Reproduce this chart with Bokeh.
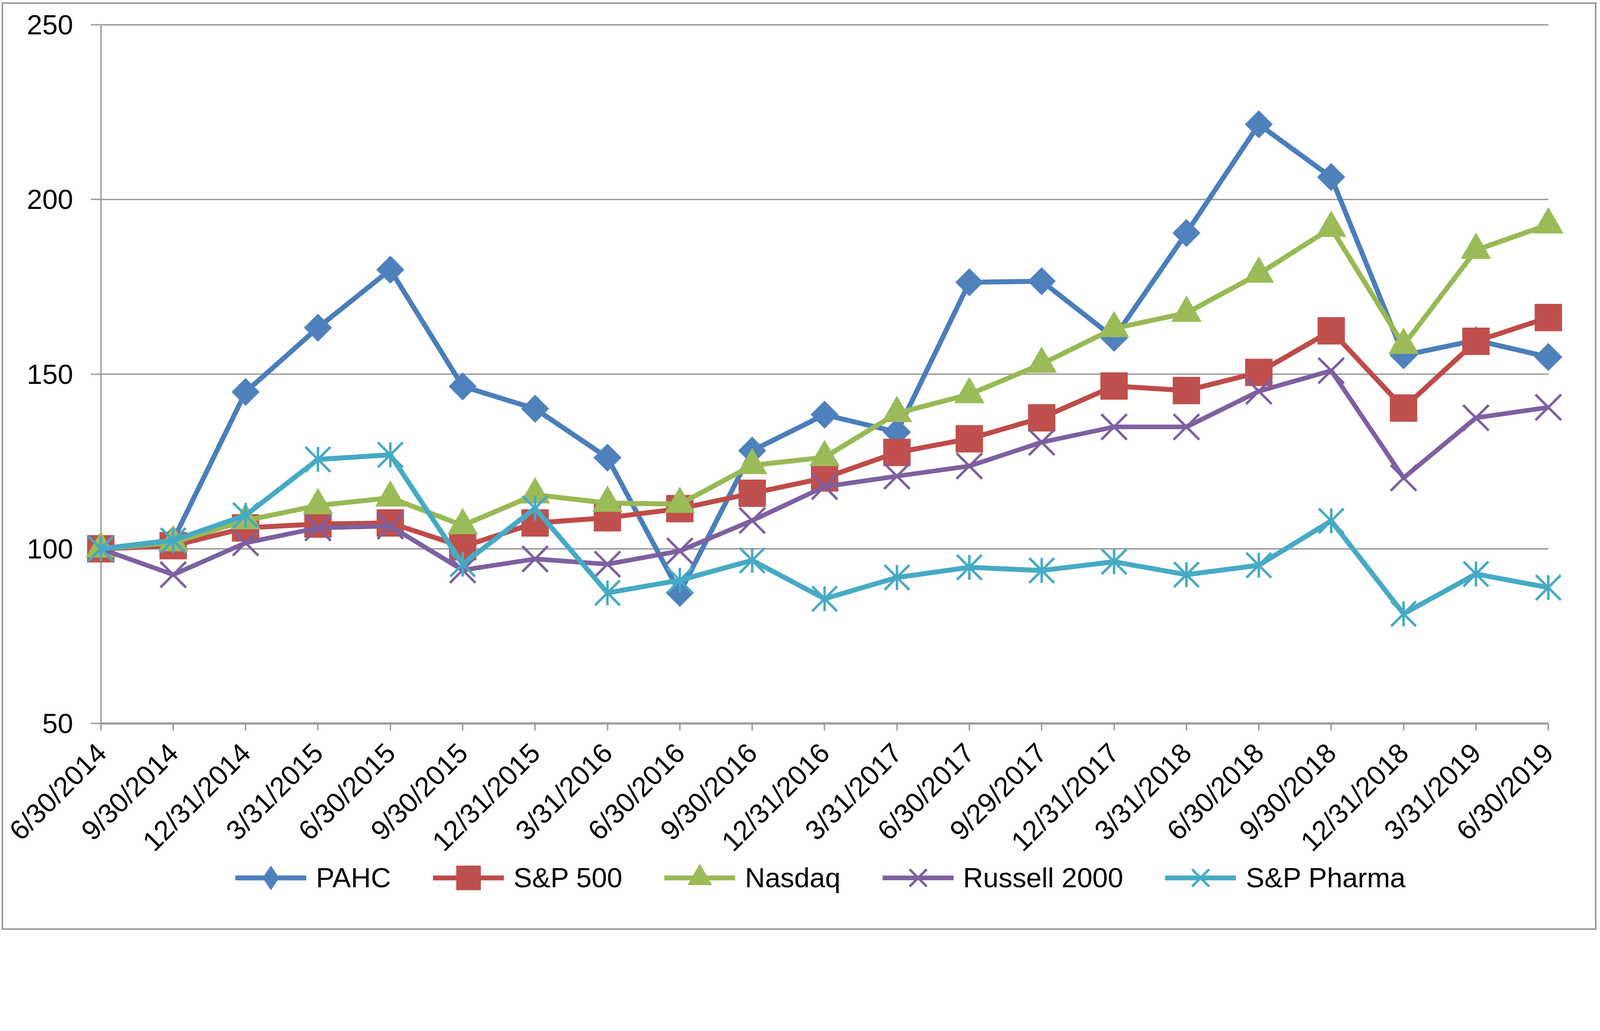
import math
from bokeh.plotting import figure
from bokeh.models import Range1d, FixedTicker, Legend, LegendItem, ColumnDataSource
from bokeh.embed import file_html
from bokeh.resources import INLINE

dates = ["6/30/2014", "9/30/2014", "12/31/2014", "3/31/2015", "6/30/2015", "9/30/2015",
         "12/31/2015", "3/31/2016", "6/30/2016", "9/30/2016", "12/31/2016", "3/31/2017",
         "6/30/2017", "9/29/2017", "12/31/2017", "3/31/2018", "6/30/2018", "9/30/2018",
         "12/31/2018", "3/31/2019", "6/30/2019"]

pahc = [100, 102.5, 144.9, 163.3, 179.9, 146.5, 140.1, 126.1, 87.4, 128.1, 138.4, 133.4,
        176.3, 176.6, 160.4, 190.4, 221.5, 206.4, 155.4, 159.7, 154.9]
sp500 = [100, 100.9, 106.0, 107.1, 107.4, 100.6, 107.4, 108.9, 111.5, 115.9, 120.3, 127.6,
         131.5, 137.5, 146.6, 145.3, 150.5, 162.4, 140.3, 159.4, 166.2]
nasdaq = [100, 101.8, 108.1, 112.4, 114.6, 106.7, 115.5, 113.1, 112.8, 123.9, 126.2, 138.8,
          144.2, 152.9, 163.1, 167.5, 178.7, 191.8, 158.3, 185.5, 192.8]
russell = [100, 92.6, 101.7, 106.0, 106.5, 93.9, 97.1, 95.6, 99.4, 108.1, 117.8, 120.8,
           123.7, 130.5, 134.9, 134.9, 145.1, 151.0, 120.3, 137.5, 140.5]
pharma = [100, 102.4, 109.6, 125.6, 126.9, 95.6, 111.6, 87.4, 91.0, 96.7, 85.7, 91.8,
          94.7, 93.8, 96.3, 92.6, 95.3, 108.0, 81.4, 92.8, 88.9]

series_names = ["PAHC", "S&P 500", "Nasdaq", "Russell 2000", "S&P Pharma"]
y_ticks = [50, 100, 150, 200, 250]
y_min, y_max = 50, 250

# the page is rendered ~1.1x; sizes below are given in screen pixels / Z
Z = 1.1
def s(v):
    return v / Z

FONT = "Liberation Sans"
FS = f"{s(78):.1f}px"
GRID = "#9a9a9a"
BLUE, RED, GREEN, PURPLE, CYAN = "#4A7EBB", "#BE4B48", "#98B954", "#7D60A0", "#46AAC5"
SQ2 = math.sqrt(2)

xs = list(range(len(dates)))
x_first, x_last = xs[0], xs[-1]

# layout (CSS px): the plotting frame covers the whole canvas; the data band
# (first..last date, 50..250) sits inside it, axes are pinned to the band edges
W, H = 4083, 2375
BAND_L, BAND_R = 249.6, 3955.2      # x of first / last date
BAND_T, BAND_B = 53.0, 1842.1       # y of 250 / 50
xpp = (x_last - x_first) / (BAND_R - BAND_L)
ypp = (y_max - y_min) / (BAND_B - BAND_T)
x_range = Range1d(x_first - BAND_L * xpp, x_last + (W - BAND_R) * xpp)
y_range = Range1d(y_min - (H - BAND_B) * ypp, y_max + BAND_T * ypp)

src = ColumnDataSource(dict(x=xs, pahc=pahc, sp500=sp500, nasdaq=nasdaq,
                            russell=russell, pharma=pharma))

p = figure(width=W, height=H, output_backend="svg", toolbar_location=None,
           x_range=x_range, y_range=y_range,
           min_border_left=0, min_border_right=0, min_border_top=0,
           min_border_bottom=0)
p.styles = {"border": f"{s(5):.1f}px solid #9a9a9a", "margin-top": "6px",
            "margin-left": "4px"}
p.outline_line_color = None
p.background_fill_color = "white"
p.border_fill_color = "white"
p.xgrid.visible = False
p.ygrid.visible = False

# horizontal gridlines across the date span
p.segment(x0=x_first, x1=x_last, y0=y_ticks, y1=y_ticks,
          line_color=GRID, line_width=s(4))

ya = p.yaxis[0]
ya.fixed_location = x_first
ya.bounds = (y_min, y_max)
ya.ticker = FixedTicker(ticks=y_ticks)
ya.axis_line_color = GRID
ya.axis_line_width = s(4)
ya.major_tick_line_color = GRID
ya.major_tick_line_width = s(4)
ya.major_tick_out = int(round(s(29)))
ya.major_tick_in = 0
ya.minor_tick_line_color = None
ya.major_label_text_font = FONT
ya.major_label_text_font_size = FS
ya.major_label_text_color = "black"
ya.major_label_standoff = int(round(s(50)))
ya.level = "underlay"

xa = p.xaxis[0]
xa.fixed_location = y_min
xa.bounds = (x_first, x_last)
xa.ticker = FixedTicker(ticks=xs)
xa.major_label_overrides = {i: d for i, d in enumerate(dates)}
xa.major_label_orientation = math.pi / 4
xa.axis_line_color = GRID
xa.axis_line_width = s(6)
xa.major_tick_line_color = GRID
xa.major_tick_line_width = s(4)
xa.major_tick_out = int(round(s(20)))
xa.major_tick_in = 0
xa.minor_tick_line_color = None
xa.major_label_text_font = FONT
xa.major_label_text_font_size = FS
xa.major_label_text_color = "black"
xa.major_label_standoff = int(round(s(50)))
xa.level = "underlay"

LW = s(14)
l1 = p.line("x", "pahc", source=src, line_color=BLUE, line_width=LW, line_join="round")
p.scatter("x", "pahc", source=src, marker="square", angle=math.pi / 4, size=s(55),
          fill_color="#4F81BD", line_color="#4F81BD", line_width=1)
l2 = p.line("x", "sp500", source=src, line_color=RED, line_width=LW, line_join="round")
m2 = p.scatter("x", "sp500", source=src, marker="square", size=s(76),
               fill_color="#C0504D", line_color="#C0504D", line_width=1)
l3 = p.line("x", "nasdaq", source=src, line_color=GREEN, line_width=LW, line_join="round")
m3 = p.scatter("x", "nasdaq", source=src, marker="triangle", size=s(84),
               fill_color="#9BBB59", line_color="#9BBB59", line_width=1)
l4 = p.line("x", "russell", source=src, line_color=PURPLE, line_width=s(13), line_join="round")
m4 = p.scatter("x", "russell", source=src, marker="x", size=s(72 * SQ2),
               line_color=PURPLE, line_width=s(7))
l5 = p.line("x", "pharma", source=src, line_color=CYAN, line_width=s(14), line_join="round")
m5a = p.scatter("x", "pharma", source=src, marker="x", size=s(70 * SQ2),
                line_color=CYAN, line_width=s(7))
m5b = p.scatter("x", "pharma", source=src, marker="dash", angle=math.pi / 2, size=s(70),
                line_color=CYAN, line_width=s(7))

# legend-only diamond for PAHC (a single NaN point, never drawn in the plot)
dummy = ColumnDataSource(dict(x=[float("nan")], y=[float("nan")]))
leg_d = p.scatter("x", "y", source=dummy, marker="diamond", size=s(66),
                  fill_color="#4F81BD", line_color="#4F81BD", line_width=1)

GH = 155
legend = Legend(items=[
    LegendItem(label=series_names[0], renderers=[l1, leg_d]),
    LegendItem(label=series_names[1], renderers=[l2, m2]),
    LegendItem(label=series_names[2], renderers=[l3, m3]),
    LegendItem(label=series_names[3], renderers=[l4, m4]),
    LegendItem(label=series_names[4], renderers=[l5, m5a, m5b]),
], location=(594, 60), orientation="horizontal",
   glyph_width=int(round(s(200))), glyph_height=GH,
   label_standoff=int(round(s(27))), spacing=int(round(s(118))),
   padding=0, margin=0, border_line_color=None, background_fill_alpha=0,
   label_text_font=FONT, label_text_font_size=FS, label_text_color="black")
p.add_layout(legend, "center")

open("out.html", "w").write(file_html(p, INLINE))
